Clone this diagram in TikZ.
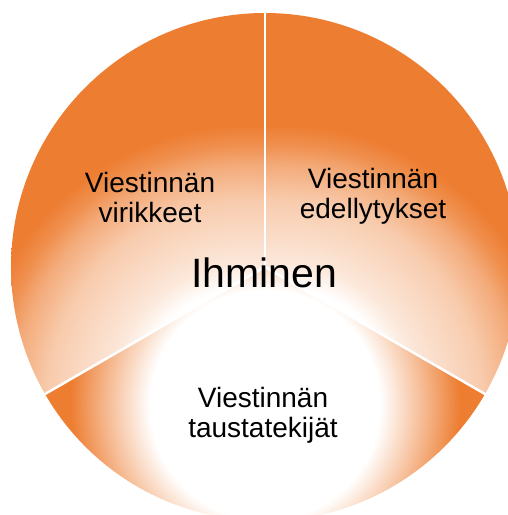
\documentclass[tikz,border=0pt]{standalone}
\usepackage{fontspec}
\setmainfont{Liberation Sans}
\definecolor{piorange}{RGB}{237,125,49}
% white core fading out to orange
\pgfdeclareradialshading{topglow}{\pgfpoint{0bp}{0bp}}{color(0bp)=(white); color(7bp)=(white); color(8.6bp)=(piorange!18); color(12.5bp)=(piorange!40); color(14.7bp)=(piorange!65); color(15.9bp)=(piorange!85); color(17.2bp)=(piorange); color(50bp)=(piorange)}
\pgfdeclareradialshading{lowglow}{\pgfpoint{0bp}{0bp}}{color(0bp)=(white); color(11.5bp)=(white); color(16bp)=(piorange!55); color(19.5bp)=(piorange); color(50bp)=(piorange)}
\begin{document}
\begin{tikzpicture}[x=1pt,y=1pt,
  lbl/.style={align=center,font=\fontsize{28}{30}\selectfont}]
  \useasboundingbox (0,0) rectangle (508,515);
  \coordinate (O) at (265,248);

  % sektori vasen ylä
  \begin{scope}
    \clip (O) -- ++(90:254) arc (90:210:254) -- cycle;
    \shade[shading=topglow] (248,115) circle (400);
  \end{scope}

  % sektori oikea ylä
  \begin{scope}
    \clip (O) -- ++(-30:254) arc (-30:90:254) -- cycle;
    \shade[shading=topglow] (282,115) circle (400);
  \end{scope}

  % sektori ala
  \begin{scope}
    \clip (O) -- ++(210:254) arc (210:330:254) -- cycle;
    \shade[shading=lowglow] (265,110) circle (250);
  \end{scope}

  % raot
  \foreach \a in {90,210,330}
    \draw[white,line width=2.5] (O) -- ++(\a:258);

  % tekstit
  \node[lbl] (virikkeet) at (150,318) {Viestinnän\\virikkeet};
  \node[lbl] (edellytykset) at (373,319) {Viestinnän\\edellytykset};
  \node[lbl] (tausta) at (263,100) {Viestinnän\\taustatekijät};
  \node[font=\fontsize{41}{45}\selectfont,anchor=base] (ihminen) at (264,227) {Ihminen};
\end{tikzpicture}
\end{document}
